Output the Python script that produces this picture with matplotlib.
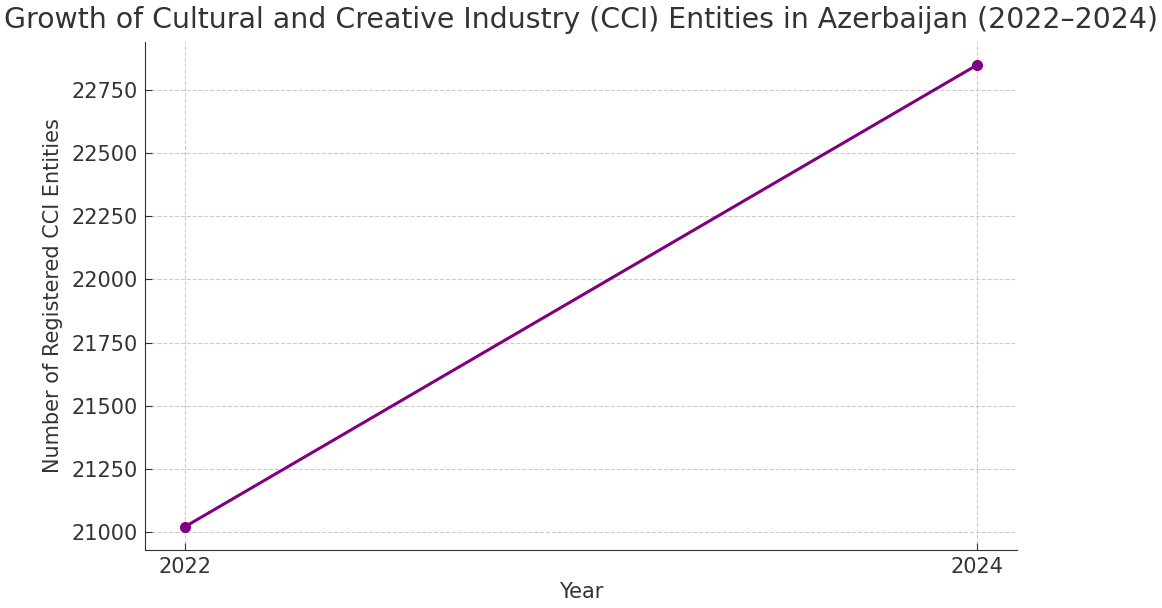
import matplotlib.pyplot as plt

years = [2022, 2024]
entities = [21020, 22850]
year_labels = ["2022", "2024"]

plt.rcParams["font.family"] = "DejaVu Sans"
text_color = "#333333"

fig = plt.figure(figsize=(11.62, 6.08), dpi=100)
ax = fig.add_axes([0.1248, 0.0954, 0.7504, 0.836])

ax.plot(years, entities, color="purple", marker="o", markersize=7, linewidth=2.2)

ax.set_xticks(years)
ax.set_xticklabels(year_labels)
ax.set_xlabel("Year", fontsize=15, color=text_color, labelpad=4)
ax.set_ylabel("Number of Registered CCI Entities", fontsize=15, color=text_color, labelpad=6)
ax.set_title("Growth of Cultural and Creative Industry (CCI) Entities in Azerbaijan (2022\u20132024)",
             fontsize=20.4, color=text_color, pad=10)
ax.tick_params(labelsize=15, colors=text_color, direction="in", length=5, pad=5)
ax.grid(True, linestyle="--", color="#cccccc", linewidth=0.8)
ax.spines["top"].set_visible(False)
ax.spines["right"].set_visible(False)
for s in ("left", "bottom"):
    ax.spines[s].set_color("#333333")

fig.savefig("out.png", dpi=100)
